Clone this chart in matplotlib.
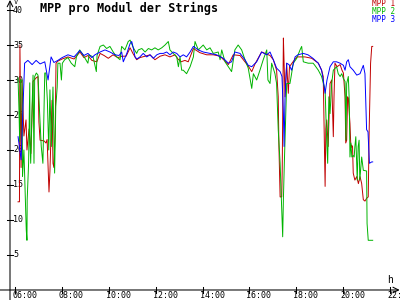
import numpy as np
import matplotlib
matplotlib.use('Agg')
import matplotlib.pyplot as plt

'''
MPP voltage per module for the three strings, read off the reference (hours, volts)
'''
t_mpp1 = [6.13, 6.19, 6.21, 6.26, 6.30, 6.38, 6.47, 6.51, 6.60, 6.68, 6.77, 6.90, 6.98, 7.02, 7.07,
          7.24, 7.32, 7.37, 7.45, 7.49, 7.58, 7.62, 7.66, 7.71, 7.75, 7.83, 8.01, 8.26, 8.52, 8.77,
          8.94, 9.11, 9.28, 9.49, 9.63, 9.80, 9.98, 10.18, 10.39, 10.56, 10.74, 10.91, 11.03, 11.19,
          11.33, 11.55, 11.76, 11.97, 12.19, 12.40, 12.61, 12.83, 12.95, 13.08, 13.25, 13.39, 13.61,
          13.89, 14.18, 14.46, 14.75, 15.10, 15.31, 15.60, 15.95, 16.10, 16.24, 16.52, 16.67, 16.88,
          17.02, 17.16, 17.23, 17.26, 17.31, 17.38, 17.40, 17.45, 17.48, 17.52, 17.59, 17.66, 17.71,
          17.86, 18.03, 18.37, 18.66, 18.94, 19.08, 19.15, 19.23, 19.26, 19.30, 19.36, 19.44, 19.51,
          19.58, 19.61, 19.65, 19.74, 19.87, 19.95, 20.01, 20.08, 20.11, 20.15, 20.19, 20.22, 20.29,
          20.33, 20.36, 20.40, 20.43, 20.50, 20.58, 20.65, 20.72, 20.79, 20.86, 20.93, 21.00, 21.07,
          21.11, 21.14, 21.17, 21.22, 21.26]
v_mpp1 = [12.6, 12.6, 35.0, 17.5, 30.0, 22.0, 24.3, 20.0, 23.0, 19.5, 29.8, 30.3, 30.5, 24.0, 21.4,
          21.3, 21.0, 21.5, 14.0, 16.9, 27.1, 18.1, 17.5, 22.1, 32.4, 32.7, 33.0, 33.3, 33.0, 34.0,
          33.2, 33.5, 32.8, 32.6, 33.8, 33.5, 33.1, 33.6, 33.2, 33.4, 33.4, 34.6, 33.8, 32.9,
          33.2, 33.4, 33.6, 32.9, 33.4, 33.6, 33.3, 33.6, 33.0, 32.6, 32.8, 32.6, 34.5,
          33.9, 33.6, 33.6, 33.4, 32.2, 33.6, 33.5, 32.0, 31.2, 32.3, 34.0, 33.8, 33.5,
          32.9, 31.4, 27.6, 20.5, 13.3, 13.3, 17.1, 36.0, 32.4, 27.6, 32.4, 28.1, 31.9,
          32.6, 33.3, 33.3, 33.1, 32.4, 31.4, 30.5, 14.8, 23.0, 24.3, 20.5, 29.5, 30.0,
          21.9, 27.6, 32.4, 31.9, 32.2, 31.4, 31.0, 27.6, 21.0, 21.4, 27.6, 27.4, 23.8,
          20.3, 20.7, 20.5, 16.7, 15.7, 16.2, 15.2, 16.2, 15.2, 12.9, 12.7, 13.1, 13.3,
          22.9, 27.6, 32.4, 34.8, 34.8]

t_mpp2 = [6.13, 6.17, 6.20, 6.23, 6.30, 6.32, 6.38, 6.48, 6.51, 6.52, 6.58, 6.63, 6.64, 6.67, 6.73,
          6.77, 6.81, 6.84, 6.91, 6.98, 7.05, 7.12, 7.19, 7.27, 7.32, 7.38, 7.44, 7.49, 7.55, 7.62,
          7.69, 7.74, 7.80, 7.83, 7.92, 7.98, 8.02, 8.12, 8.26, 8.40, 8.55, 8.62, 8.76, 8.90, 9.11,
          9.16, 9.33, 9.47, 9.50, 9.63, 9.77, 9.91, 10.05, 10.19, 10.34, 10.48, 10.55, 10.69, 10.83,
          10.91, 11.05, 11.19, 11.26, 11.41, 11.55, 11.69, 11.83, 11.97, 12.11, 12.26, 12.40, 12.54,
          12.61, 12.75, 12.90, 12.97, 13.04, 13.11, 13.18, 13.32, 13.47, 13.61, 13.68, 13.82, 14.03,
          14.18, 14.32, 14.46, 14.67, 14.75, 14.82, 14.96, 15.10, 15.24, 15.38, 15.52, 15.67, 15.81,
          15.95, 16.10, 16.17, 16.31, 16.45, 16.59, 16.74, 16.79, 16.88, 16.95, 17.09, 17.16, 17.23,
          17.31, 17.38, 17.42, 17.45, 17.49, 17.55, 17.59, 17.73, 17.80, 17.87, 18.02, 18.16, 18.23,
          18.30, 18.51, 18.72, 18.79, 18.94, 19.08, 19.23, 19.30, 19.34, 19.39, 19.44, 19.51, 19.58,
          19.72, 19.79, 19.87, 19.94, 20.01, 20.08, 20.12, 20.15, 20.22, 20.26, 20.29, 20.33, 20.37,
          20.43, 20.47, 20.50, 20.54, 20.57, 20.60, 20.64, 20.68, 20.71, 20.79, 20.86, 21.00, 21.02,
          21.07, 21.26]
v_mpp2 = [30.3, 25.7, 21.2, 30.0, 30.0, 16.2, 20.0, 8.6, 7.1, 12.9, 18.1, 29.6, 21.0, 18.1, 26.4,
          30.7, 18.1, 30.5, 31.0, 30.7, 25.3, 20.5, 18.1, 31.0, 31.0, 27.1, 20.0, 28.6, 20.5, 29.0,
          16.7, 26.2, 29.0, 32.4, 32.4, 30.0, 32.4, 32.9, 33.2, 32.4, 31.9, 33.3, 34.3, 33.6, 32.4,
          33.6, 33.3, 31.2, 33.5, 34.8, 35.0, 34.5, 34.8, 34.0, 33.3, 32.9, 34.8, 34.3, 35.5,
          35.7, 34.6, 33.8, 34.3, 34.5, 34.0, 34.5, 34.3, 34.6, 34.3, 34.6, 35.0, 35.5,
          34.3, 33.8, 33.3, 31.9, 33.3, 31.4, 31.4, 30.9, 31.9, 33.3, 35.5, 34.3, 35.0,
          34.3, 34.6, 33.8, 34.0, 32.9, 34.3, 32.6, 31.9, 31.2, 34.3, 35.0, 34.3, 32.9,
          31.7, 28.8, 30.9, 30.0, 31.4, 32.9, 34.3, 30.0, 29.5, 32.4, 30.9, 29.5, 22.9,
          18.1, 11.4, 7.6, 12.9, 18.1, 24.8, 29.5, 29.5, 30.9, 32.4, 33.1, 34.3, 34.8,
          32.6, 32.4, 32.4, 32.1, 31.4, 30.5, 28.6, 21.0, 18.1, 27.6, 25.2, 29.5, 31.4,
          31.9, 30.9, 30.5, 30.9, 30.2, 29.8, 21.4, 29.5, 30.5, 27.1, 19.0, 21.0, 19.0,
          19.2, 19.0, 20.5, 21.9, 19.0, 15.7, 20.5, 21.4, 15.7, 19.0, 17.1, 17.0, 9.5,
          7.1, 7.1]

t_mpp3 = [6.13, 6.26, 6.41, 6.55, 6.73, 6.90, 7.07, 7.27, 7.41, 7.54, 7.66, 7.83, 8.01, 8.26, 8.52,
          8.76, 8.94, 9.11, 9.28, 9.41, 9.63, 9.84, 10.05, 10.27, 10.44, 10.55, 10.62, 10.77, 10.91,
          10.98, 11.05, 11.12, 11.20, 11.33, 11.47, 11.62, 11.76, 11.90, 12.05, 12.19, 12.33, 12.47,
          12.61, 12.75, 12.90, 13.04, 13.18, 13.32, 13.47, 13.61, 13.82, 14.03, 14.32, 14.60, 14.89,
          15.10, 15.24, 15.38, 15.60, 15.81, 15.95, 16.10, 16.31, 16.52, 16.74, 16.88, 17.02, 17.16,
          17.31, 17.39, 17.45, 17.48, 17.52, 17.59, 17.69, 17.80, 17.95, 18.07, 18.30, 18.50, 18.71,
          18.94, 19.08, 19.15, 19.23, 19.31, 19.44, 19.58, 19.72, 19.87, 20.01, 20.08, 20.15, 20.22,
          20.29, 20.43, 20.58, 20.72, 20.86, 20.93, 21.00, 21.06, 21.12, 21.22, 21.26]
v_mpp3 = [21.9, 18.6, 32.4, 32.8, 32.2, 32.8, 32.3, 32.6, 30.0, 33.3, 32.5, 32.8, 33.2, 33.6, 33.3,
          34.2, 33.5, 33.8, 33.2, 33.6, 34.0, 34.3, 34.0, 33.6, 33.5, 34.0, 32.6, 33.8, 35.2,
          35.5, 34.5, 33.3, 33.0, 33.3, 33.8, 33.3, 33.6, 33.1, 33.6, 33.8, 33.8, 34.0,
          33.6, 34.0, 33.8, 33.3, 33.6, 33.3, 34.0, 34.8, 34.3, 34.0, 33.8, 33.6, 33.1,
          32.4, 32.6, 34.0, 33.8, 32.9, 32.1, 31.9, 32.6, 34.0, 33.6, 34.0, 32.9, 31.7,
          31.2, 30.5, 25.2, 20.5, 27.6, 32.4, 32.2, 31.4, 33.3, 33.6, 33.8, 33.6, 33.1,
          32.4, 31.4, 30.0, 28.1, 30.0, 31.9, 32.6, 32.6, 32.4, 32.1, 31.4, 32.6, 32.9,
          31.9, 31.4, 30.7, 30.9, 32.1, 30.9, 22.9, 22.6, 18.1, 18.3, 18.3]

y_ticks = [5, 10, 15, 20, 25, 30, 35, 40]
x_ticks = [6, 8, 10, 12, 14, 16, 18, 20, 22]
x_labels = ['06:00', '08:00', '10:00', '12:00', '14:00', '16:00', '18:00', '20:00', '22:00']
names = ['MPP 1', 'MPP 2', 'MPP 3']
colors = ['#c00000', '#00b400', '#0000ff']

plt.rcParams['font.family'] = 'DejaVu Sans Mono'

fig = plt.figure(figsize=(4, 3), dpi=100)
ax = fig.add_axes([0, 0, 1, 1])
ax.set_xlim(5.36, 22.425)
ax.set_ylim(-1.43, 41.43)
ax.axis('off')

# size of one pixel in data units
px = (22.425 - 5.36) / 400
py = (41.43 + 1.43) / 300
x0 = 6 - 5 * px   # position of the y axis

# axes with arrows
ax.annotate('', xy=(x0, 41.43), xytext=(x0, -1.43),
            arrowprops=dict(arrowstyle='->', lw=0.75, color='black', shrinkA=0, shrinkB=0))
ax.annotate('', xy=(22.41, 0), xytext=(5.36, 0),
            arrowprops=dict(arrowstyle='->', lw=0.75, color='black', shrinkA=0, shrinkB=0))

for v in y_ticks:
    ax.plot([x0 - 3 * px, x0 + 3 * px], [v, v], color='black', lw=0.75)
    ax.text(x0 + 3 * px, v, str(v), fontsize=6, va='center', ha='left', zorder=1)
for t, lab in zip(x_ticks, x_labels):
    ax.plot([t, t], [-3 * py, 3 * py], color='black', lw=0.75)
    ax.text(t - 3 * px, -6 * py, lab, fontsize=6, va='center', ha='left', zorder=1)
ax.text(x0 + 4 * px, 41.43 - 1.5 * py, 'V', fontsize=5, va='center', ha='left')
ax.text(22 - 3 * px, 10 * py, 'h', fontsize=7, va='center', ha='left')

ax.text(40 * px + 5.36, 41.43 - 8 * py, 'MPP pro Modul der Strings', fontsize=8.5,
        fontweight='bold', va='center', ha='left')

series = [(t_mpp1, v_mpp1), (t_mpp2, v_mpp2), (t_mpp3, v_mpp3)]
for i, (t, v) in enumerate(series):
    ax.plot(t, v, color=colors[i], lw=0.7, zorder=3)
    ax.text(22.425 - 5 * px, 41.43 - (4 + 8 * i) * py, names[i], color=colors[i],
            fontsize=5.5, va='center', ha='right')

fig.savefig('out.png', dpi=100, facecolor='white')
